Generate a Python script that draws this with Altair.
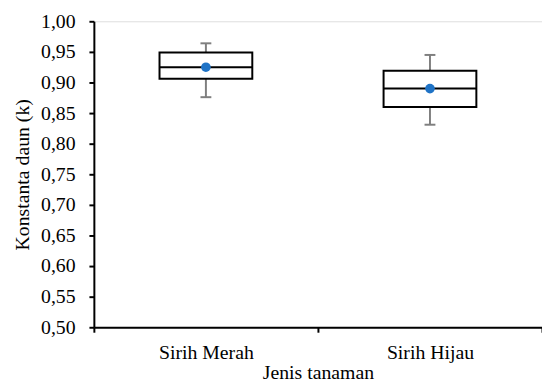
import altair as alt
import pandas as pd

categories = ["Sirih Merah", "Sirih Hijau"]
q1 = [0.906, 0.860]
q3 = [0.949, 0.919]
median = [0.925, 0.890]
mean = [0.925, 0.890]
wmin = [0.876, 0.831]
wmax = [0.964, 0.945]
y_ticks = [0.50, 0.55, 0.60, 0.65, 0.70, 0.75, 0.80, 0.85, 0.90, 0.95, 1.00]

df = pd.DataFrame({
    "cat": categories, "q1": q1, "q3": q3, "median": median,
    "mean": mean, "wmin": wmin, "wmax": wmax,
})

FONT = "Liberation Serif, Times New Roman, serif"

xaxis = alt.Axis(
    title="Jenis tanaman", labelAngle=0, tickBand="extent",
    labelPadding=11, titlePadding=0,
)
x = alt.X("cat:N", sort=categories,
          scale=alt.Scale(paddingInner=0, paddingOuter=0), axis=xaxis)

yscale = alt.Scale(domain=[0.5, 1.0], nice=False, zero=False)
yaxis = alt.Axis(
    title="Konstanta daun (k)", values=y_ticks, grid=False, labelOverlap=False,
    labelExpr="replace(format(datum.value, '.2f'), '.', ',')",
    labelPadding=14, titlePadding=8,
)

def Y(field):
    return alt.Y(field, scale=yscale, axis=yaxis)

base = alt.Chart(df)

whisker = base.mark_rule(color="#7f7f7f", strokeWidth=2).encode(
    x=x, y=Y("wmin:Q"), y2="wmax:Q"
)
cap_lo = base.mark_tick(color="#7f7f7f", size=11, thickness=2, opacity=1).encode(
    x=x, y=Y("wmin:Q")
)
cap_hi = base.mark_tick(color="#7f7f7f", size=11, thickness=2, opacity=1).encode(
    x=x, y=Y("wmax:Q")
)
box = base.mark_bar(size=94, fill="white", stroke="black", strokeWidth=2, opacity=1).encode(
    x=x, y=Y("q1:Q"), y2="q3:Q"
)
med = base.mark_tick(color="black", size=94, thickness=2, opacity=1).encode(
    x=x, y=Y("median:Q")
)
mean_pt = base.mark_point(filled=True, size=95, color="#1f73c6", opacity=1).encode(
    x=x, y=Y("mean:Q")
)

chart = alt.layer(whisker, cap_lo, cap_hi, box, med, mean_pt).properties(
    width=454, height=310,
    autosize=alt.AutoSizeParams(type="none"),
    padding={"left": 87, "top": 11, "right": 0, "bottom": 55},
).configure_view(stroke=None).configure(
    background="white", font=FONT
).configure_axis(
    labelFont=FONT, labelFontSize=20, labelColor="black",
    titleFont=FONT, titleFontSize=20, titleFontWeight="normal", titleColor="black",
    domainColor="black", domainWidth=2, tickColor="black", tickWidth=2, tickSize=5,
    grid=False,
)

chart.save("out.html", embed_options={"renderer": "svg", "actions": False})
